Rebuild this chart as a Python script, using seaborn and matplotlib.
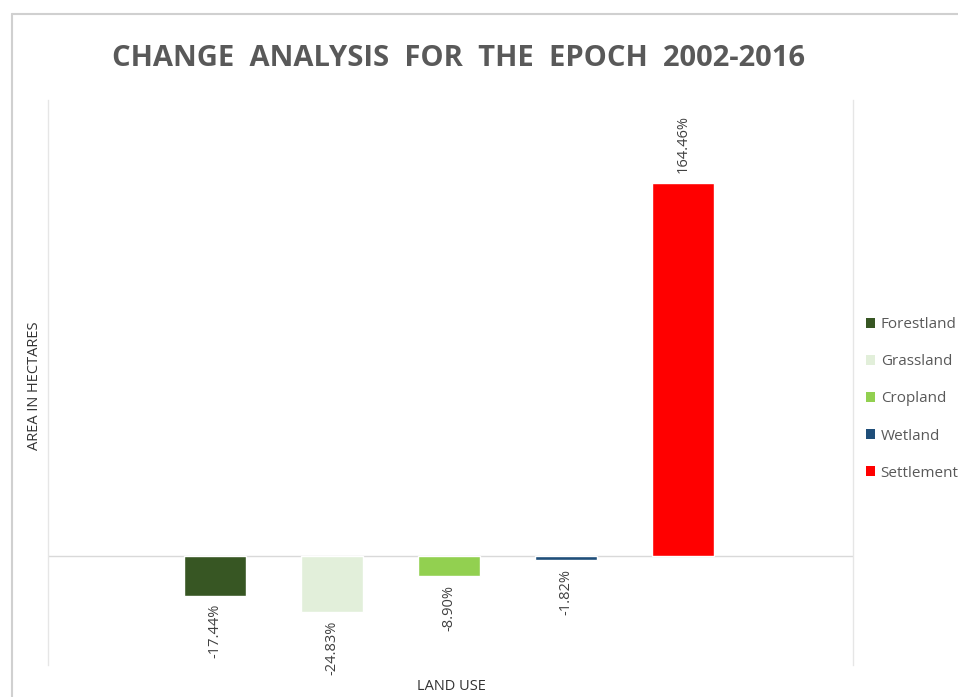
import matplotlib
matplotlib.use("Agg")
import matplotlib.pyplot as plt
import seaborn as sns
import pandas as pd
from matplotlib.patches import Patch

categories = ["Forestland", "Grassland", "Cropland", "Wetland", "Settlement"]
values = [-17.44, -24.83, -8.90, -1.82, 164.46]
labels = ["-17.44%", "-24.83%", "-8.90%", "-1.82%", "164.46%"]
colors = ["#375623", "#e2efda", "#92d050", "#1f4e79", "#ff0000"]

df = pd.DataFrame({"Land use": categories, "Change": values})

sns.set_style("white")
plt.rcParams["font.family"] = ["Open Sans", "DejaVu Sans"]

W, H = 958, 697
fig = plt.figure(figsize=(W / 100, H / 100), dpi=100)
ax = fig.add_axes([48 / W, (H - 665) / H, (853 - 48) / W, (665 - 100) / H])

sns.barplot(data=df, x="Land use", y="Change", hue="Land use",
            palette=dict(zip(categories, colors)), width=0.53,
            dodge=False, legend=False, ax=ax, saturation=1)

ax.set_xlim(-1.43, 5.45)
ax.set_ylim(-48, 201)
ax.axhline(0, color="#d9d9d9", lw=1, zorder=0)
ax.set_xticks([])
ax.set_yticks([])
for s in ["top", "bottom"]:
    ax.spines[s].set_visible(False)
for s in ["left", "right"]:
    ax.spines[s].set_color("#e6e6e6")
    ax.spines[s].set_linewidth(1)

for i, (v, lab) in enumerate(zip(values, labels)):
    if v >= 0:
        ax.annotate(lab, (i, v), xytext=(0, 7), textcoords="offset points",
                    rotation=90, ha="center", va="bottom", fontsize=10.5, color="#404040")
    else:
        ax.annotate(lab, (i, v), xytext=(0, -6), textcoords="offset points",
                    rotation=90, ha="center", va="top", fontsize=10.5, color="#404040")

ax.set_xlabel("")
ax.set_ylabel("")
fig.text(451 / W, 1 - 686 / H, "LAND USE", ha="center", va="center",
         fontsize=10.5, color="#333333")
fig.text(35 / W, 1 - 386 / H, "AREA IN HECTARES", ha="center", va="center",
         rotation=90, fontsize=10.5, color="#333333")
fig.text(458 / W, 1 - 58 / H, "CHANGE  ANALYSIS  FOR  THE  EPOCH  2002-2016",
         ha="center", va="center", fontsize=21, fontweight="bold", color="#595959",
         family=["Open Sans", "DejaVu Sans"])

handles = [Patch(facecolor=c, edgecolor="none") for c in colors]
fig.legend(handles, categories, loc="upper left", bbox_to_anchor=(860 / W, 1 - 311 / H),
           frameon=False, fontsize=11, labelcolor="#595959", handlelength=0.6,
           handleheight=0.6, handletextpad=0.35, labelspacing=1.45, borderaxespad=0)

# outer chart border
fig.add_artist(plt.Line2D([12 / W, 1], [1 - 14 / H, 1 - 14 / H], color="#d0d0d0", lw=1.5))
fig.add_artist(plt.Line2D([12 / W, 12 / W], [0, 1 - 14 / H], color="#d0d0d0", lw=1.5))

fig.savefig("out.png", dpi=100)
